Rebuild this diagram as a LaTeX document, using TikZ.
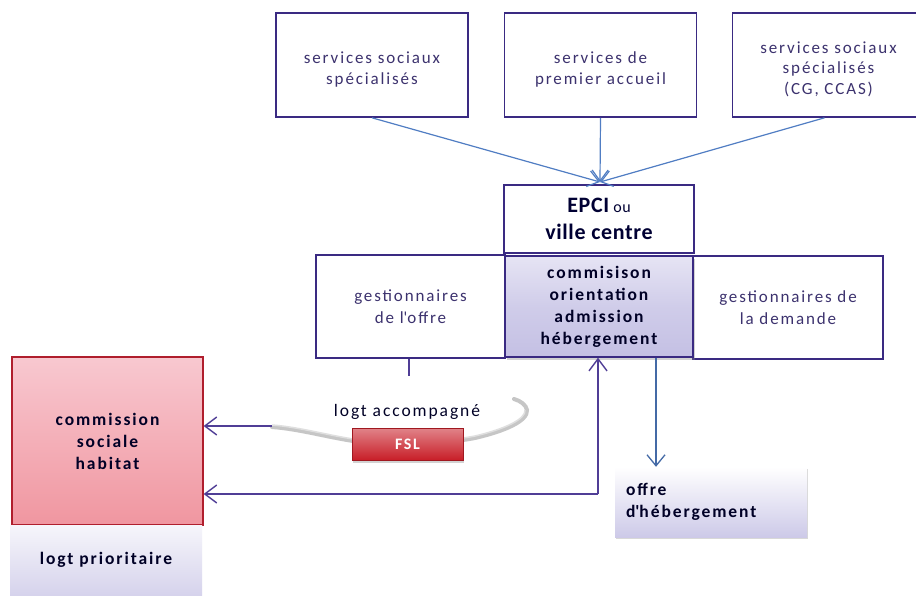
\documentclass[tikz,border=0pt]{standalone}
\usepackage{fontspec}
\setmainfont{Carlito}[LetterSpace=11]
\usetikzlibrary{arrows.meta,shadows}
\definecolor{navy}{RGB}{58,42,130}
\definecolor{arrblue}{RGB}{80,125,195}
\definecolor{arrpur}{RGB}{80,62,150}
\definecolor{txt}{RGB}{60,50,110}
\definecolor{lav}{RGB}{196,192,228}
\definecolor{lavlight}{RGB}{230,228,244}
\definecolor{pinktop}{RGB}{248,200,208}
\definecolor{pinkbot}{RGB}{240,150,160}
\definecolor{redb}{RGB}{176,30,45}
\definecolor{fslred}{RGB}{200,30,40}
\newcommand{\lowertxt}[1]{\raisebox{-4.5pt}[\height][\depth]{\begin{tabular}{@{}c@{}}#1\end{tabular}}}
\begin{document}
\begin{tikzpicture}[x=1pt,y=-1pt,
  box/.style={draw=navy,line width=1.6pt,fill=white,minimum width=192pt,minimum height=104pt,
    align=center,text=txt,font=\fontsize{17}{22}\selectfont,inner sep=0pt},
  topbar/.style={-{Straight Barb[length=11pt,width=16pt]},arrblue,line width=1.2pt},
  purar/.style={-{Straight Barb[length=12pt,width=18pt]},arrpur,line width=1.4pt},
  boldtxt/.style={font=\bfseries\fontsize{17.5}{22}\selectfont,text=black!85!blue}
]
\useasboundingbox (0,0) rectangle (916,595);
\fill[white] (0,0) rectangle (916,595);

% top boxes
\node[box] (s1) at (372,65) {\lowertxt{services sociaux\\[-1pt]spécialisés}};
\node[box] (s2) at (600.5,65) {\lowertxt{services de\\[-1pt]premier accueil}};
\node[box] (s3) at (828.5,65) {\lowertxt{services sociaux\\[-1.5pt]spécialisés\\[-1.5pt](CG, CCAS)}};

% EPCI
\node[box,line width=2.4pt,minimum width=190pt,minimum height=68pt,
  font=\addfontfeatures{LetterSpace=3}\fontsize{16}{27}\selectfont,text=black!80!blue] (epci) at (599,219)
  {{\bfseries\fontsize{22}{27}\selectfont EPCI} ou\\{\bfseries\fontsize{22}{27}\selectfont ville centre}};

% middle row
\node[box,minimum width=189pt,minimum height=103pt] (g1) at (410.5,306.5) {gestionnaires\\de l\textquotesingle offre};
\node[box,minimum width=190pt,minimum height=103pt] (g2) at (788,307.5) {gestionnaires de\\la demande};
\node[draw=navy,line width=1.4pt,minimum width=188pt,minimum height=101pt,inner sep=0pt,
  top color=lavlight,bottom color=lav,middle color=lav!80!white,
  drop shadow={shadow xshift=2pt,shadow yshift=-3pt,opacity=0.35},
  align=center,boldtxt] (comm) at (599,306.5)
  {commisison\\orientation\\admission\\hébergement};

% arrows to EPCI
\coordinate (conv) at (600,182);
\draw[topbar] (s1.south) -- (conv);
\draw[topbar] (s2.south) -- (conv);
\draw[topbar] ([xshift=-4pt]s3.south) -- (conv);

% left pink boxes
\node[draw=redb,line width=1.2pt,minimum width=191pt,minimum height=168pt,inner sep=0pt,
  top color=pinktop,bottom color=pinkbot,align=center,boldtxt] (csh) at (107.5,441)
  {commission\\sociale\\habitat};
\node[minimum width=192pt,minimum height=70pt,inner sep=0pt,
  top color=white!85!lav,bottom color=lav!70!white,align=center,boldtxt] (prio) at (106,560)
  {logt prioritaire};

% ellipse arc (logt accompagne)
\draw[gray!45,line width=4pt,line cap=round]
  (272,427) .. controls (300,429) and (330,438) .. (360,442)
  .. controls (400,446) and (450,443) .. (475,438)
  .. controls (505,431) and (528,421) .. (527,410)
  .. controls (526,405) and (521,401) .. (514,399);
\draw[gray!25,line width=1.5pt]
  (272,425) .. controls (300,427) and (330,436) .. (360,440)
  .. controls (400,444) and (450,441) .. (475,436)
  .. controls (505,429) and (526,419) .. (525,410);
\node[font=\fontsize{17.5}{22}\selectfont,text=black!85!blue] (acc) at (407,412) {logt accompagné};
\node[minimum width=111pt,minimum height=32pt,inner sep=0pt,
  top color=fslred!55!white,bottom color=fslred,draw=fslred!80!black,line width=0.6pt,
  drop shadow={shadow xshift=1pt,shadow yshift=-3pt,opacity=0.35},
  text=white,font=\bfseries\fontsize{16}{20}\selectfont] (fsl) at (407.5,444) {FSL};

% offre d'hebergement
\node[minimum width=192pt,minimum height=70pt,inner sep=0pt,
  top color=white,bottom color=lav!85!white,
  drop shadow={shadow xshift=1pt,shadow yshift=-2pt,opacity=0.3},
  align=left,text width=170pt,boldtxt] (offre) at (711,502)
  {offre\\d\textquotesingle hébergement};

% connectors
\coordinate (accl) at (272,426);
\draw[purar] (accl) -- (csh.east |- accl);
\coordinate (corner) at (598,494);
\draw[purar] (corner) -- (csh.east |- corner);
\draw[purar] (corner) -- (corner |- comm.south);
\draw[arrpur,line width=1.4pt] (g1.south -| 409,0) -- (409,376);
\draw[-{Straight Barb[length=11pt,width=18pt]},arrblue!85!black,line width=1.3pt]
  (comm.south -| 656,0) -- (offre.north -| 656,0);
\end{tikzpicture}
\end{document}
